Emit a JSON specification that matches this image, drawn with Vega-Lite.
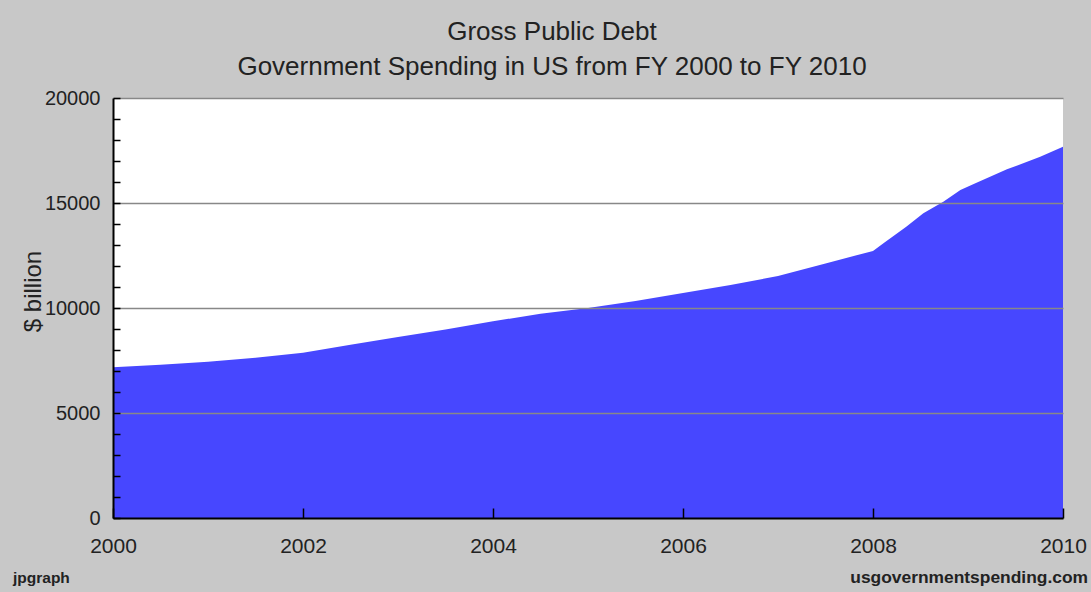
{
  "$schema": "https://vega.github.io/schema/vega-lite/v6.json",
  "autosize": {"type": "none"},
  "width": 950,
  "height": 420,
  "padding": {"left": 113, "top": 98, "right": 28, "bottom": 74},
  "background": "#c8c8c8",
  "config": {
    "view": {"stroke": null, "fill": "white"},
    "font": "Liberation Sans"
  },
  "title": {
    "text": ["Gross Public Debt", "Government Spending in US from FY 2000 to FY 2010"],
    "fontSize": 26,
    "fontWeight": "normal",
    "font": "Liberation Sans",
    "color": "#222222",
    "lineHeight": 35,
    "anchor": "middle",
    "frame": "group",
    "dx": -36,
    "offset": 8
  },
  "layer": [
    {
      "data": {
        "values": [
          {"year": 2000.0, "debt": 7180},
          {"year": 2000.5, "debt": 7300},
          {"year": 2001.0, "debt": 7440},
          {"year": 2001.5, "debt": 7630},
          {"year": 2002.0, "debt": 7870},
          {"year": 2002.5, "debt": 8255},
          {"year": 2003.0, "debt": 8620},
          {"year": 2003.5, "debt": 8980},
          {"year": 2004.0, "debt": 9370},
          {"year": 2004.5, "debt": 9725},
          {"year": 2005.0, "debt": 10000},
          {"year": 2005.5, "debt": 10330},
          {"year": 2006.0, "debt": 10710},
          {"year": 2006.5, "debt": 11090},
          {"year": 2007.0, "debt": 11520},
          {"year": 2007.5, "debt": 12120},
          {"year": 2008.0, "debt": 12720},
          {"year": 2008.11, "debt": 13079},
          {"year": 2008.35, "debt": 13873},
          {"year": 2008.53, "debt": 14508},
          {"year": 2008.74, "debt": 15063},
          {"year": 2008.92, "debt": 15619},
          {"year": 2009.06, "debt": 15905},
          {"year": 2009.41, "debt": 16603},
          {"year": 2009.76, "debt": 17206},
          {"year": 2010.0, "debt": 17683}
        ]
      },
      "mark": {"type": "area", "color": "#4747ff", "interpolate": "linear"},
      "encoding": {
        "x": {
          "field": "year",
          "type": "quantitative",
          "scale": {"domain": [2000, 2010], "nice": false, "zero": false},
          "axis": {
            "values": [2000, 2002, 2004, 2006, 2008, 2010],
            "tickCount": 20,
            "format": "d",
            "title": null,
            "grid": false,
            "zindex": 1,
            "domainColor": "#000000",
            "domainWidth": 2,
            "tickColor": "#000000",
            "tickWidth": 1.5,
            "tickSize": -10,
            "labelPadding": 27,
            "labelFontSize": 21,
            "labelColor": "#222222",
            "labelFlush": false,
            "labelFont": "Liberation Sans"
          }
        },
        "y": {
          "field": "debt",
          "type": "quantitative",
          "scale": {"domain": [0, 20000], "nice": false},
          "axis": {
            "values": [0, 1000, 2000, 3000, 4000, 5000, 6000, 7000, 8000, 9000, 10000, 11000, 12000, 13000, 14000, 15000, 16000, 17000, 18000, 19000, 20000],
            "tickCount": 50,
            "labelExpr": "datum.value % 5000 === 0 ? format(datum.value, 'd') : ''",
            "labelOverlap": false,
            "title": "$ billion",
            "titleFontSize": 24,
            "titleFontWeight": "normal",
            "titleFont": "Liberation Sans",
            "titleColor": "#222222",
            "titleAngle": -90,
            "titleAlign": "center",
            "titleBaseline": "middle",
            "titleX": -80,
            "titleY": 193,
            "zindex": 1,
            "grid": true,
            "gridColor": "#888888",
            "gridWidth": 1.5,
            "gridOpacity": {"condition": {"test": "datum.value % 5000 === 0 && datum.value > 0", "value": 1}, "value": 0},
            "domainColor": "#000000",
            "domainWidth": 2,
            "tickColor": "#000000",
            "tickWidth": 1.5,
            "tickSize": -7,
            "labelPadding": 20,
            "labelFontSize": 20,
            "labelColor": "#222222",
            "labelFont": "Liberation Sans"
          }
        }
      }
    },
    {
      "data": {"values": [{"credit": "jpgraph"}]},
      "mark": {"type": "text", "align": "left", "baseline": "alphabetic", "fontSize": 15.5, "fontWeight": "bold", "font": "Liberation Sans", "color": "#222222", "dx": -100, "dy": 65},
      "encoding": {
        "x": {"datum": 2000, "type": "quantitative"},
        "y": {"datum": 0, "type": "quantitative"},
        "text": {"field": "credit"}
      }
    },
    {
      "data": {"values": [{"credit": "usgovernmentspending.com"}]},
      "mark": {"type": "text", "align": "right", "baseline": "alphabetic", "fontSize": 17.4, "fontWeight": "bold", "font": "Liberation Sans", "color": "#222222", "dx": 25, "dy": 65},
      "encoding": {
        "x": {"datum": 2010, "type": "quantitative"},
        "y": {"datum": 0, "type": "quantitative"},
        "text": {"field": "credit"}
      }
    }
  ]
}
